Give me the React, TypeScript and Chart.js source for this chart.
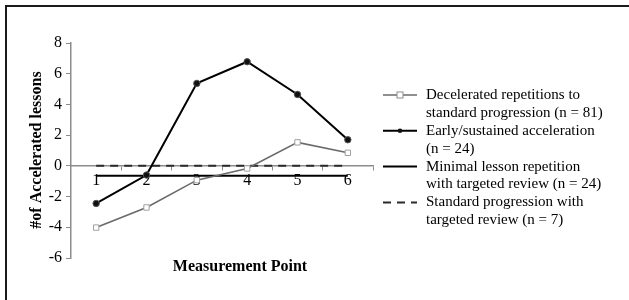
import { useEffect, useRef } from 'react';
import { Chart, registerables } from 'chart.js';

Chart.register(...registerables);

const categories = ['1', '2', '3', '4', '5', '6'];
const decelerated = [-4.02, -2.71, -0.93, -0.17, 1.53, 0.85];
const early = [-2.45, -0.6, 5.37, 6.78, 4.65, 1.7];
const minimal = [-0.65, -0.65, -0.65, -0.65, -0.65, -0.65];
const standard = [0, 0, 0, 0, 0, 0];

const seriesNames = [
  'Decelerated repetitions to standard progression (n = 81)',
  'Early/sustained acceleration (n = 24)',
  'Minimal lesson repetition with targeted review (n = 24)',
  'Standard progression with targeted review (n = 7)',
];
const legendLines = [
  ['Decelerated repetitions to', 'standard progression (n = 81)'],
  ['Early/sustained acceleration', '(n = 24)'],
  ['Minimal lesson repetition', 'with targeted review (n = 24)'],
  ['Standard progression with', 'targeted review (n = 7)'],
];
const yMin = -6;
const yMax = 8;
const yStep = 2;
const xTitle = 'Measurement Point';
const yTitle = '#of Accelerated lessons';

const SERIF = '"Liberation Serif", "Times New Roman", serif';

const decorPlugin = {
  id: 'decor',
  afterDraw(chart: any) {
    const ctx = chart.ctx as CanvasRenderingContext2D;
    ctx.save();
    // frame (top and left)
    ctx.fillStyle = '#1a1a1a';
    ctx.fillRect(5, 5, chart.width, 2);
    ctx.fillRect(5, 5, 2, chart.height);

    // axis titles
    ctx.fillStyle = '#000';
    ctx.font = 'bold 16px ' + SERIF;
    ctx.textAlign = 'center';
    ctx.textBaseline = 'middle';
    ctx.fillText(xTitle, 240, 267);
    ctx.save();
    ctx.translate(37, 150);
    ctx.rotate(-Math.PI / 2);
    ctx.fillText(yTitle, 0, 0);
    ctx.restore();

    // legend
    const x0 = 383, x1 = 417, tx = 426;
    const lh = 17.9;
    let y = 95;
    ctx.font = '15px ' + SERIF;
    ctx.textAlign = 'left';
    legendLines.forEach((lines, i) => {
      const ds = chart.data.datasets[i];
      ctx.save();
      ctx.strokeStyle = ds.borderColor;
      ctx.lineWidth = ds.borderWidth;
      ctx.setLineDash(ds.borderDash || []);
      ctx.beginPath();
      ctx.moveTo(x0, y);
      ctx.lineTo(x1, y);
      ctx.stroke();
      ctx.setLineDash([]);
      const mx = (x0 + x1) / 2;
      if (i === 0) {
        ctx.fillStyle = '#fff';
        ctx.strokeStyle = '#8a8a8a';
        ctx.lineWidth = 1;
        ctx.fillRect(mx - 3, y - 3, 6, 6);
        ctx.strokeRect(mx - 3, y - 3, 6, 6);
      } else if (i === 1) {
        ctx.fillStyle = '#111';
        ctx.beginPath();
        ctx.arc(mx, y, 2.3, 0, Math.PI * 2);
        ctx.fill();
      }
      ctx.restore();
      ctx.fillStyle = '#000';
      lines.forEach((t, j) => {
        ctx.fillText(t, tx, y + j * lh);
      });
      y += lines.length * lh;
    });
    ctx.restore();
  },
};

export default function App() {
  const ref = useRef<HTMLCanvasElement>(null);
  useEffect(() => {
    document.body.style.margin = '0';
    const chart = new Chart(ref.current!, {
      type: 'line',
      data: {
        labels: categories,
        datasets: [
          {
            label: seriesNames[0],
            data: decelerated,
            borderColor: '#6a6a6a',
            borderWidth: 1.6,
            pointStyle: 'rect',
            pointRadius: 3.8,
            pointBackgroundColor: '#fff',
            pointBorderColor: '#a0a0a0',
            pointBorderWidth: 1,
            tension: 0,
          },
          {
            label: seriesNames[1],
            data: early,
            borderColor: '#000',
            borderWidth: 2,
            pointStyle: 'circle',
            pointRadius: 3.2,
            pointBackgroundColor: '#111',
            pointBorderColor: '#555',
            pointBorderWidth: 1,
            tension: 0,
          },
          {
            label: seriesNames[2],
            data: minimal,
            borderColor: '#000',
            borderWidth: 2,
            pointRadius: 0,
            tension: 0,
          },
          {
            label: seriesNames[3],
            data: standard,
            borderColor: '#2a2a2a',
            borderWidth: 2,
            borderDash: [8, 6],
            pointRadius: 0,
            tension: 0,
          },
        ],
      },
      options: {
        animation: false,
        responsive: true,
        maintainAspectRatio: false,
        layout: { padding: { left: 0, right: 256, top: 43, bottom: 42 } },
        plugins: {
          legend: { display: false },
          tooltip: { enabled: false },
        },
        scales: {
          x: {
            type: 'category',
            position: { y: 0 } as any,
            offset: true,
            grid: {
              offset: true,
              drawOnChartArea: false,
              drawTicks: true,
              tickLength: 4,
              color: '#8c8c8c',
            },
            border: { display: true, color: '#8c8c8c', width: 1.5 },
            ticks: {
              color: '#000',
              padding: 1,
              maxRotation: 0,
              font: { family: SERIF, size: 16 },
            },
          },
          y: {
            min: yMin,
            max: yMax,
            afterFit(scale: any) {
              scale.width = 71;
            },
            grid: {
              drawOnChartArea: false,
              drawTicks: true,
              tickLength: 5,
              color: '#8c8c8c',
            },
            border: { display: true, color: '#8c8c8c', width: 1.5 },
            ticks: {
              stepSize: yStep,
              color: '#000',
              padding: 4,
              font: { family: SERIF, size: 16 },
            },
          },
        },
      },
      plugins: [decorPlugin],
    });
    return () => chart.destroy();
  }, []);
  return (
    <div style={{ width: 629, height: 300, position: 'relative', background: '#fff' }}>
      <canvas ref={ref} />
    </div>
  );
}
